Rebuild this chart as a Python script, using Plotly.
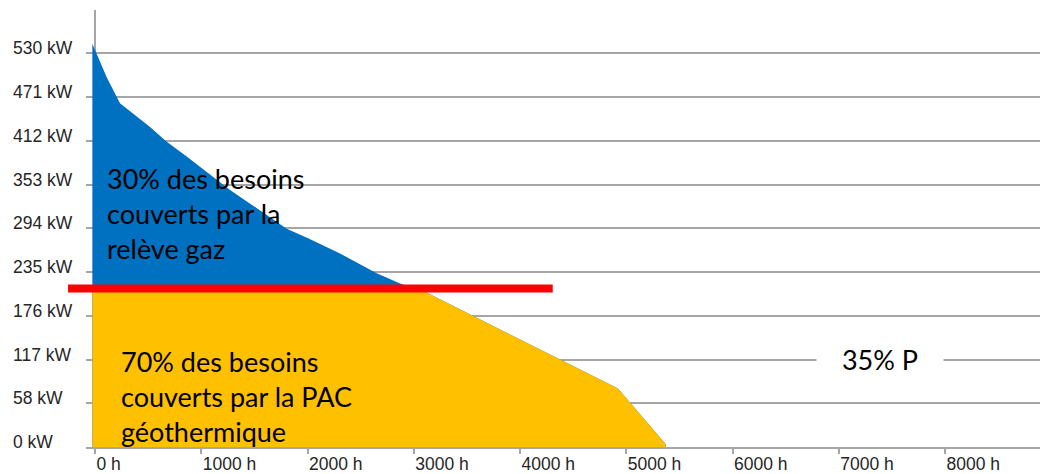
import numpy as np
import plotly.graph_objects as go

# Monotone load-duration curve: hours of the year vs. heating power (kW)
hours = [-25, 110, 235, 518, 675, 863, 1271, 1804, 2005, 2306, 2651, 2871, 3106, 4922, 5370, 5370]
power_kw = [543, 498, 463, 431, 411, 391, 346, 294, 281, 260.5, 234, 220, 209, 78.7, 4, 0]

# Heat-pump / gas-boiler switching level and the span of the marker line
relay_kw = 213.4
relay_span_h = [-254, 4308]

# Axis ticks
x_ticks_h = [0, 1000, 2000, 3000, 4000, 5000, 6000, 7000, 8000]
x_tick_text = ["0 h", "1000 h", "2000 h", "3000 h", "4000 h", "5000 h", "6000 h", "7000 h", "8000 h"]
y_ticks_kw = [0, 58.9, 117.8, 176.7, 235.6, 294.4, 353.3, 412.2, 471.1, 530]
y_tick_text = ["0 kW", "58 kW", "117 kW", "176 kW", "235 kW", "294 kW", "353 kW", "412 kW", "471 kW", "530 kW"]

X_RANGE = [-84.7, 8894]
Y_RANGE = [0, 588.4]

BLUE = "#0070C0"
YELLOW = "#FFC000"
RED = "#FF0000"
GRID = "#a6a6a6"
AXIS_FONT = dict(family="Liberation Sans, Arial, sans-serif", size=17.5, color="#262626")
TEXT_FONT = dict(family="Lato, sans-serif", size=27, color="#000000")

h = np.array(hours, dtype=float)
p = np.array(power_kw, dtype=float)

# Part below the switching level is covered by the heat pump
idx = np.argmax(p < relay_kw)
h_cross = np.interp(relay_kw, [p[idx], p[idx - 1]], [h[idx], h[idx - 1]])
h_low = np.concatenate([[h[0]], [h_cross], h[idx:]])
p_low = np.concatenate([[relay_kw], [relay_kw], p[idx:]])

fig = go.Figure()
fig.add_trace(go.Scatter(x=h, y=p, mode="lines", line=dict(width=0, color=BLUE),
                         fill="tozeroy", fillcolor=BLUE, hoverinfo="skip"))
fig.add_trace(go.Scatter(x=h_low, y=p_low, mode="lines", line=dict(width=0, color=YELLOW),
                         fill="tozeroy", fillcolor=YELLOW, hoverinfo="skip"))


def to_paper_x(v):
    return (v - X_RANGE[0]) / (X_RANGE[1] - X_RANGE[0])


def to_paper_y(v):
    return (v - Y_RANGE[0]) / (Y_RANGE[1] - Y_RANGE[0])


# Switching-level marker (extends into the left margin)
fig.add_shape(type="line", xref="paper", yref="paper",
              x0=to_paper_x(relay_span_h[0]), x1=to_paper_x(relay_span_h[1]),
              y0=to_paper_y(relay_kw), y1=to_paper_y(relay_kw),
              line=dict(color=RED, width=8), layer="above")

annotations = []
for v, t in zip(y_ticks_kw, y_tick_text):
    annotations.append(dict(x=-0.0786, xref="paper", y=v, yref="y", text=t,
                            xanchor="left", yanchor="middle", yshift=5,
                            showarrow=False, font=AXIS_FONT))

annotations += [
    dict(x=90, y=315, xref="x", yref="y", xanchor="left", yanchor="middle",
         text="30% des besoins<br>couverts par la<br>relève gaz", align="left",
         showarrow=False, font=TEXT_FONT),
    dict(x=230, y=68, xref="x", yref="y", xanchor="left", yanchor="middle",
         text="70% des besoins<br>couverts par la PAC<br>géothermique", align="left",
         showarrow=False, font=TEXT_FONT),
    dict(x=7347, y=117.8, xref="x", yref="y", xanchor="center", yanchor="middle",
         text="35% P", showarrow=False, font=TEXT_FONT, bgcolor="white",
         width=126, borderpad=0, xshift=4),
]

fig.update_layout(
    width=1040, height=474,
    margin=dict(l=86, r=0, t=10, b=27),
    paper_bgcolor="white", plot_bgcolor="white",
    showlegend=False,
    annotations=annotations,
    xaxis=dict(range=X_RANGE, tickvals=x_ticks_h, ticktext=x_tick_text,
               ticks="outside", ticklen=5, tickwidth=1.5, tickcolor=GRID,
               ticklabelposition="outside right", tickfont=AXIS_FONT,
               showgrid=False, zeroline=True, zerolinecolor=GRID, zerolinewidth=1.5,
               showline=True, linecolor=GRID, linewidth=1.5, fixedrange=True),
    yaxis=dict(range=Y_RANGE, tickvals=y_ticks_kw, showticklabels=False,
               showgrid=True, gridcolor=GRID, gridwidth=1.5,
               zeroline=False, showline=False, fixedrange=True),
)

fig.write_html("out.html")
